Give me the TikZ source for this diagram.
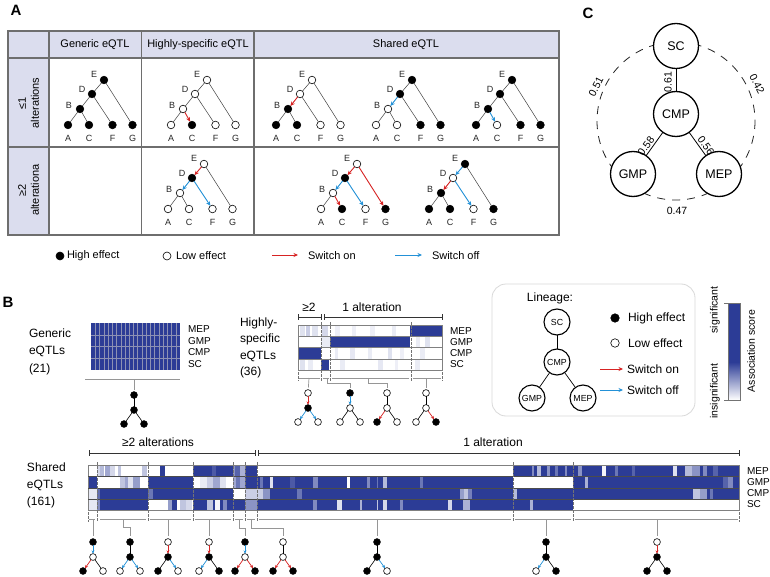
\documentclass[tikz,border=0pt]{standalone}
\usepackage{fontspec}
\setmainfont{Liberation Sans}
\usetikzlibrary{arrows.meta}
\definecolor{hb}{RGB}{44,60,150}
\definecolor{hdr}{RGB}{219,221,238}
\definecolor{swon}{RGB}{215,35,35}
\definecolor{swoff}{RGB}{35,145,215}
\definecolor{tbl}{RGB}{110,110,110}
\definecolor{brk}{RGB}{150,150,150}
\definecolor{grd}{RGB}{140,145,180}
\newcommand\fsz[1]{\fontsize{#1}{#1}\selectfont}
\tikzset{
  every node/.style={inner sep=0pt,outer sep=0pt},
  hi/.style={circle,draw=black,fill=black,minimum size=7.6pt,line width=0.6pt},
  lo/.style={circle,draw=black,fill=white,minimum size=7.6pt,line width=0.6pt},
  pl/.style={draw=black!75,line width=0.5pt},
  redarr/.style={draw=swon,line width=0.9pt,-{Stealth[length=4.5pt,width=4pt]}},
  bluearr/.style={draw=swoff,line width=0.9pt,-{Stealth[length=4.5pt,width=4pt]}},
  shi/.style={circle,draw=black,fill=black,minimum size=6.8pt,line width=0.6pt},
  slo/.style={circle,draw=black,fill=white,minimum size=6.8pt,line width=0.6pt},
  spl/.style={draw=black,line width=0.6pt},
  sredarr/.style={draw=swon,line width=0.7pt,-{Stealth[length=3.2pt,width=3pt]}},
  sbluearr/.style={draw=swoff,line width=0.7pt,-{Stealth[length=3.2pt,width=3pt]}},
  tlab/.style={font=\fsz{9},text=black!85},
  hdrtxt/.style={font=\fsz{11}},
  legtxt/.style={font=\fsz{11},anchor=west},
  btxt/.style={font=\fsz{12},anchor=west},
  rowlab/.style={font=\fsz{10},anchor=west},
  brkl/.style={draw=brk,line width=0.7pt},
  tbr/.style={draw=black!80,line width=0.8pt},
  sep/.style={draw=black!55,line width=0.6pt,dash pattern=on 2.5pt off 1.5pt},
  cnode/.style={circle,draw=black,fill=white,minimum size=45pt,line width=1.3pt,font=\fsz{12.5}},
  lnode/.style={circle,draw=black,fill=white,minimum size=26pt,line width=1.1pt,font=\fsz{8.8}},
  numlab/.style={font=\fsz{10.5}},
}
\def\getst#1#2#3#4#5#6#7{\def\sE{#1}\def\sD{#2}\def\sB{#3}\def\sA{#4}\def\sC{#5}\def\sF{#6}\def\sG{#7}}
\newcommand\atree[5]{%
  \getst#4%
  \begin{scope}[shift={(#2,#3)}]
    \node[\sE] (#1-E) at (0,0) {};
    \node[\sD] (#1-D) at (-12,14) {};
    \node[\sB] (#1-B) at (-24,29) {};
    \node[\sA] (#1-A) at (-36,45) {};
    \node[\sC] (#1-C) at (-15,45) {};
    \node[\sF] (#1-F) at (8.5,45) {};
    \node[\sG] (#1-G) at (28.5,45) {};
    \node[tlab] (#1-lE) at (-10,-6) {E};
    \node[tlab] (#1-lD) at (-22,9) {D};
    \node[tlab] (#1-lB) at (-35,25) {B};
    \node[tlab] (#1-lA) at (-36,58) {A};
    \node[tlab] (#1-lC) at (-15,58) {C};
    \node[tlab] (#1-lF) at (8.5,58) {F};
    \node[tlab] (#1-lG) at (28.5,58) {G};
  \end{scope}
  \foreach \a/\b/\s in {#5}{\draw[\s] (#1-\a) -- (#1-\b);}
}
\def\getsb#1#2#3#4{\def\sT{#1}\def\sM{#2}\def\sL{#3}\def\sR{#4}}
\newcommand\btree[5]{%
  \getsb#4%
  \begin{scope}[shift={(#2,#3)}]
    \node[\sT] (#1-T) at (0,0) {};
    \node[\sM] (#1-M) at (0,15) {};
    \node[\sL] (#1-L) at (-10,29) {};
    \node[\sR] (#1-R) at (10,29) {};
  \end{scope}
  \foreach \a/\b/\s in {#5}{\draw[\s] (#1-\a) -- (#1-\b);}
}
\newcommand\hrow[3]{\foreach \a/\b/\c in {#3}{\fill[hb!\c] (\a,#1) rectangle (\b,#2);}}
\begin{document}
\begin{tikzpicture}[x=1pt,y=-1pt]
\useasboundingbox (0,0) rectangle (770,577);
\fill[white] (0,0) rectangle (770,577);

% ---------------- Panel letters
\node[font=\fsz{15}\bfseries] (labA) at (16,10) {A};
\node[font=\fsz{15}\bfseries] (labB) at (8,302) {B};
\node[font=\fsz{15}\bfseries] (labC) at (588,13) {C};

% ---------------- Panel A table
\fill[hdr] (8,31) rectangle (559,58);
\fill[hdr] (8,58) rectangle (49,235);
\draw[tbl,line width=1.1pt] (8,31) rectangle (559,235);
\draw[tbl,line width=1.1pt] (8,58) -- (559,58) (8,147) -- (559,147)
  (49,31) -- (49,235) (141.7,31) -- (141.7,235) (254,31) -- (254,235);
\node[hdrtxt] (hG) at (95,45) {Generic eQTL};
\node[hdrtxt] (hH) at (198,45) {Highly-specific eQTL};
\node[hdrtxt] (hS) at (406,45) {Shared eQTL};
\node[hdrtxt,rotate=90] (r1a) at (22,103) {≤1};
\node[hdrtxt,rotate=90] (r1b) at (35,103) {alterations};
\node[hdrtxt,rotate=90] (r2a) at (22,190) {≥2};
\node[hdrtxt,rotate=90] (r2b) at (35,190) {alterationa};

\atree{g1}{104}{80}{{hi}{hi}{hi}{hi}{hi}{hi}{hi}}{E/D/pl,D/B/pl,B/A/pl,B/C/pl,D/F/pl,E/G/pl}
\atree{h1}{207}{80}{{lo}{lo}{lo}{lo}{hi}{lo}{lo}}{E/D/pl,D/B/pl,B/A/pl,B/C/redarr,D/F/pl,E/G/pl}
\atree{s1}{312}{80}{{lo}{lo}{hi}{hi}{hi}{lo}{lo}}{E/D/pl,D/B/redarr,B/A/pl,B/C/pl,D/F/pl,E/G/pl}
\atree{s2}{412}{80}{{hi}{hi}{lo}{lo}{lo}{hi}{hi}}{E/D/pl,D/B/bluearr,B/A/pl,B/C/pl,D/F/pl,E/G/pl}
\atree{s3}{512}{80}{{hi}{hi}{hi}{hi}{lo}{hi}{hi}}{E/D/pl,D/B/pl,B/A/pl,B/C/bluearr,D/F/pl,E/G/pl}
\atree{h2}{204}{164}{{lo}{hi}{lo}{lo}{lo}{lo}{lo}}{E/D/redarr,D/B/bluearr,B/A/pl,B/C/pl,D/F/bluearr,E/G/pl}
\atree{s4}{357}{164}{{lo}{hi}{lo}{lo}{hi}{lo}{hi}}{E/D/redarr,D/B/bluearr,B/A/pl,B/C/redarr,D/F/bluearr,E/G/redarr}
\atree{s5}{465}{164}{{hi}{lo}{hi}{hi}{hi}{lo}{hi}}{E/D/bluearr,D/B/redarr,B/A/pl,B/C/pl,D/F/bluearr,E/G/pl}

% legend A
\node[hi,minimum size=8pt] (lgA1) at (60,256) {};
\node[legtxt] (lgA1t) at (67,256) {High effect};
\node[lo,minimum size=8pt] (lgA2) at (167,256) {};
\node[legtxt] (lgA2t) at (176,256) {Low effect};
\coordinate (lgA3a) at (272,255); \coordinate (lgA3b) at (298,255);
\draw[redarr] (lgA3a) -- (lgA3b);
\node[legtxt] (lgA3t) at (308,256) {Switch on};
\coordinate (lgA4a) at (395,255); \coordinate (lgA4b) at (422,255);
\draw[bluearr] (lgA4a) -- (lgA4b);
\node[legtxt] (lgA4t) at (432,256) {Switch off};

% ---------------- Panel C
\draw[black!85,line width=0.8pt,dash pattern=on 8pt off 7pt] (676,121) circle (79);
\node[cnode] (SC) at (676,46) {SC};
\node[cnode] (CMP) at (676,114) {CMP};
\node[cnode] (GMP) at (633,174) {GMP};
\node[cnode] (MEP) at (719,174) {MEP};
\draw[line width=0.8pt] (SC) -- (CMP);
\draw[line width=0.8pt] (CMP) -- (GMP);
\draw[line width=0.8pt] (CMP) -- (MEP);
\node[numlab,rotate=90] (c61) at (668,82) {0.61};
\node[numlab,rotate=54] (c58) at (646,146) {0.58};
\node[numlab,rotate=-54] (c56) at (706,146) {0.56};
\node[numlab,rotate=63] (c51) at (596,87) {0.51};
\node[numlab,rotate=-63] (c42) at (757,84) {0.42};
\node[numlab] (c47) at (677,211) {0.47};

% ---------------- Panel B: generic
\node[btxt] (gt1) at (29,333) {Generic};
\node[btxt] (gt2) at (29,351) {eQTLs};
\node[btxt] (gt3) at (29,369) {(21)};
\fill[hb] (91,323) rectangle (180,370);
\foreach \i in {1,...,20}{\draw[grd,line width=0.3pt] ({91+\i*89/21},323) -- ({91+\i*89/21},370);}
\foreach \yy in {334.75,346.5,358.25}{\draw[grd,line width=0.3pt] (91,\yy) -- (180,\yy);}
\node[rowlab] (gl1) at (188,329) {MEP};
\node[rowlab] (gl2) at (188,341) {GMP};
\node[rowlab] (gl3) at (188,352.5) {CMP};
\node[rowlab] (gl4) at (188,364.5) {SC};
\draw[brkl] (85,379) -- (180,379);
\coordinate (gbc) at (134,379);
\btree{gt}{134}{395}{{shi}{shi}{shi}{shi}}{T/M/spl,M/L/spl,M/R/spl}
\draw[brkl,shorten >=2pt] (gbc) -- (gt-T);

% ---------------- Panel B: highly specific
\node[btxt] (ht1) at (240,323) {Highly-};
\node[btxt] (ht2) at (240,339) {specific};
\node[btxt] (ht3) at (240,356) {eQTLs};
\node[btxt] (ht4) at (240,372) {(36)};
\hrow{325}{336.25}{298/442/0,300/305/15,306/310/25,312/318/15,322/328/20,335/340/8,352/356/8,370/375/8,392/396/10,410/442/100}
\hrow{336.25}{347.5}{298/442/0,321/330/10,330/410/100,416/420/10,425/430/15}
\hrow{347.5}{358.75}{298/442/0,298/321/100,335/338/10,350/355/12,368/372/10,388/392/15,400/404/8,420/425/10}
\hrow{358.75}{370}{298/442/0,300/305/15,308/313/10,321/329/100,340/345/10,378/383/12,395/398/8,415/420/10}
\draw[black!50,line width=0.5pt] (298,325) rectangle (442,370);
\foreach \yy in {336.25,347.5,358.75}{\draw[black!50,line width=0.5pt] (298,\yy) -- (442,\yy);}
\foreach \xx in {321,330,411}{\draw[sep] (\xx,322) -- (\xx,381);}
\foreach \xx in {298,442}{\draw[sep] (\xx,372) -- (\xx,381);}
\node[rowlab] (hl1) at (450,330.6) {MEP};
\node[rowlab] (hl2) at (450,341.9) {GMP};
\node[rowlab] (hl3) at (450,353.1) {CMP};
\node[rowlab] (hl4) at (450,364.4) {SC};
% top bracket
\draw[tbr] (298,317) -- (321,317) (298,314) -- (298,320) (321,314) -- (321,320)
  (324,317) -- (442,317) (324,314) -- (324,320) (442,314) -- (442,320);
\node[font=\fsz{12}] (hb2) at (309,307) {≥2};
\node[font=\fsz{12}] (hb1) at (372,307) {1 alteration};
% lower bracket
\draw[brkl] (299,378) -- (320,378) (323,378) -- (329,378) (332,378) -- (409,378) (413,378) -- (441,378);
\coordinate (hc1) at (309,378); \coordinate (hc2) at (327,378);
\coordinate (hc3) at (368,378); \coordinate (hc4) at (426,378);
\btree{ht1}{308}{393}{{slo}{shi}{slo}{slo}}{T/M/sredarr,M/L/sbluearr,M/R/sbluearr}
\btree{ht2}{350}{393}{{shi}{slo}{slo}{slo}}{T/M/sbluearr,M/L/spl,M/R/spl}
\btree{ht3}{387}{393}{{slo}{slo}{shi}{slo}}{T/M/spl,M/L/sredarr,M/R/spl}
\btree{ht4}{426}{393}{{slo}{slo}{slo}{shi}}{T/M/spl,M/L/spl,M/R/sredarr}
\draw[brkl,shorten >=2pt] (hc1) -- (ht1-T);
\draw[brkl,shorten >=2pt] (hc2) -- ++(0,5) -| (ht2-T);
\draw[brkl,shorten >=2pt] (hc3) -- ++(0,5) -| (ht3-T);
\draw[brkl,shorten >=2pt] (hc4) -- (ht4-T);

% ---------------- Panel B: legend box
\draw[black!15,line width=0.8pt,rounded corners=14pt] (492,284) rectangle (695,416);
\node[font=\fsz{12}] (lin) at (550,298) {Lineage:};
\node[lnode] (lSC) at (557,322) {SC};
\node[lnode] (lCMP) at (557,362) {CMP};
\node[lnode] (lGMP) at (532,398) {GMP};
\node[lnode] (lMEP) at (583,398) {MEP};
\draw[line width=0.7pt] (lSC) -- (lCMP);
\draw[line width=0.7pt] (lCMP) -- (lGMP);
\draw[line width=0.7pt] (lCMP) -- (lMEP);
\node[hi,minimum size=8.5pt] (lgB1) at (615,318) {};
\node[btxt] (lgB1t) at (628,318) {High effect};
\node[lo,minimum size=8.5pt] (lgB2) at (615,343) {};
\node[btxt] (lgB2t) at (628,343) {Low effect};
\coordinate (lgB3a) at (600,369); \coordinate (lgB3b) at (623,369);
\draw[redarr] (lgB3a) -- (lgB3b);
\node[btxt] (lgB3t) at (627,369) {Switch on};
\coordinate (lgB4a) at (600,390); \coordinate (lgB4b) at (623,390);
\draw[bluearr] (lgB4a) -- (lgB4b);
\node[btxt] (lgB4t) at (627,390) {Switch off};

% colour bar
\fill[hb] (728,303) rectangle (740,362);
\shade[top color=hb,bottom color=white] (728,362) rectangle (740,400);
\draw[black!55,line width=0.5pt] (728,303) rectangle (740,400);
\draw[black!55,line width=0.5pt] (724,303) -- (728,303) (724,400) -- (728,400);
\node[font=\fsz{10.5},rotate=90] (sig) at (715,310) {significant};
\node[font=\fsz{10.5},rotate=90] (insig) at (715,391) {insignificant};
\node[font=\fsz{10.5},rotate=90] (asc) at (751,351) {Association score};

% ---------------- Panel B: shared
\node[btxt] (st1t) at (27,467) {Shared};
\node[btxt] (st2t) at (27,485) {eQTLs};
\node[btxt] (st3t) at (27,502) {(161)};
\node[font=\fsz{12}] (sb2) at (158,442) {≥2 alterations};
\node[font=\fsz{12}] (sb1) at (493,442) {1 alteration};
\draw[tbr] (89,453) -- (255,453) (89,450) -- (89,456) (255,450) -- (255,456)
  (258,453) -- (739,453) (258,450) -- (258,456) (739,450) -- (739,456);
% MEP row
\hrow{465}{476.5}{88/97/0,97/148/0,148/193/0,193/233/100,233/245/55,245/257/100,257/513/0,513/573/100,573/739/100,
 97/100/20,100/104/35,105/110/45,110/115/20,118/121/30,142/147/30,160/165/100,212/216/85,235/240/80,240/245/40,
 532/534/60,537/541/35,547/550/55,555/558/70,565/567/60,578/582/55,602/606/5,615/618/70,632/635/80,673/677/15,
 685/692/35,692/700/55,703/707/60,713/718/80}
% GMP row
\hrow{476.5}{488}{88/97/100,97/148/0,148/193/100,193/233/0,233/245/45,245/257/100,257/513/100,513/573/0,573/739/100,
 120/125/30,125/128/45,128/133/15,133/140/50,200/207/10,207/213/25,213/220/45,220/226/15,236/240/70,260/263/70,
 270/273/15,290/295/85,313/318/60,347/350/0,367/370/60,377/378/70,383/387/35,420/423/70,585/588/40,723/728/80,728/733/60}
% CMP row
\hrow{488}{499}{88/97/12,97/148/100,148/193/100,193/233/100,233/245/0,245/257/25,257/513/100,513/573/100,573/739/100,
 97/100/75,148/153/70,257/263/25,263/270/55,297/302/70,460/464/50,464/468/30,468/472/65,513/517/35,693/700/30,
 700/707/50,710/713/70}
% SC row
\hrow{499}{510}{88/97/12,97/148/100,148/193/0,193/233/100,233/245/100,245/257/55,257/513/100,513/573/100,573/739/0,
 97/100/60,168/172/50,172/177/100,180/186/30,186/192/20,207/213/30,215/220/5,223/227/60,313/317/60,337/342/15,
 360/362/40,377/378/30,383/387/20,400/403/60,448/452/20,463/470/40,530/533/40}
\draw[black!50,line width=0.5pt] (88,465) rectangle (739,510);
\foreach \yy in {476.5,488,499}{\draw[black!70,line width=0.5pt] (88,\yy) -- (739,\yy);}
\foreach \xx in {97,148,193,233,245,257,513,573}{\draw[sep] (\xx,462) -- (\xx,522);}
\foreach \xx in {88,739}{\draw[sep] (\xx,512) -- (\xx,522);}
\node[rowlab] (sl1) at (747,470.8) {MEP};
\node[rowlab] (sl2) at (747,482.3) {GMP};
\node[rowlab] (sl3) at (747,493.5) {CMP};
\node[rowlab] (sl4) at (747,504.5) {SC};
% lower bracket
\draw[brkl] (89,519) -- (95,519) (100,519) -- (146,519) (150,519) -- (191,519) (195,519) -- (231,519)
  (235,519) -- (243,519) (247,519) -- (255,519) (259,519) -- (511,519) (515,519) -- (571,519) (575,519) -- (738,519);
\coordinate (sc1) at (93,519); \coordinate (sc2) at (123,519); \coordinate (sc3) at (168,519);
\coordinate (sc4) at (209,519); \coordinate (sc5) at (239,519); \coordinate (sc6) at (251,519);
\coordinate (sc7) at (377,519); \coordinate (sc8) at (546,519); \coordinate (sc9) at (657,519);
\btree{st1}{93}{542}{{shi}{slo}{shi}{slo}}{T/M/sbluearr,M/L/sredarr,M/R/spl}
\btree{st2}{130}{542}{{shi}{shi}{slo}{slo}}{T/M/spl,M/L/sbluearr,M/R/sbluearr}
\btree{st3}{168}{542}{{slo}{shi}{shi}{slo}}{T/M/sredarr,M/L/spl,M/R/sbluearr}
\btree{st4}{209}{542}{{slo}{shi}{slo}{shi}}{T/M/sredarr,M/L/sbluearr,M/R/spl}
\btree{st5}{245}{542}{{shi}{slo}{shi}{shi}}{T/M/sbluearr,M/L/sredarr,M/R/sredarr}
\btree{st6}{283}{542}{{slo}{slo}{shi}{shi}}{T/M/spl,M/L/sredarr,M/R/sredarr}
\btree{st7}{377}{542}{{shi}{shi}{shi}{slo}}{T/M/spl,M/L/spl,M/R/sbluearr}
\btree{st8}{546}{542}{{shi}{shi}{slo}{shi}}{T/M/spl,M/L/sbluearr,M/R/spl}
\btree{st9}{657}{542}{{slo}{shi}{shi}{shi}}{T/M/sredarr,M/L/spl,M/R/spl}
\draw[brkl,shorten >=3pt] (sc1) -- (st1-T);
\draw[brkl,shorten >=3pt] (sc2) -- ++(0,8) -| (st2-T);
\draw[brkl,shorten >=3pt] (sc3) -- (st3-T);
\draw[brkl,shorten >=3pt] (sc4) -- (st4-T);
\draw[brkl,shorten >=3pt] (sc5) -- ++(0,9) -| (st5-T);
\draw[brkl,shorten >=3pt] (sc6) -- ++(0,9) -| (st6-T);
\draw[brkl,shorten >=3pt] (sc7) -- (st7-T);
\draw[brkl,shorten >=3pt] (sc8) -- (st8-T);
\draw[brkl,shorten >=3pt] (sc9) -- (st9-T);
\end{tikzpicture}
\end{document}
